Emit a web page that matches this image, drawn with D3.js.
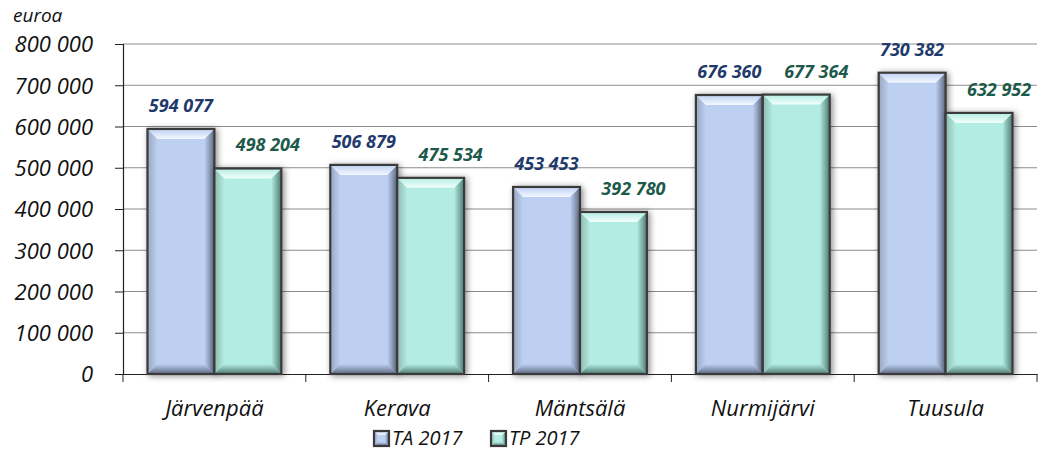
<!DOCTYPE html>
<html>
<head>
<meta charset="utf-8">
<script src="https://cdn.jsdelivr.net/npm/d3@7"></script>
<style>
  body { margin: 0; background: #fff; }
  text { font-family: "Open Sans", Lato, sans-serif; }
</style>
</head>
<body>
<div id="chart"></div>
<script>
// data
const categories = ["Järvenpää", "Kerava", "Mäntsälä", "Nurmijärvi", "Tuusula"]
const series = ["TA 2017", "TP 2017"]
const ta2017 = [594077, 506879, 453453, 676360, 730382]
const tp2017 = [498204, 475534, 392780, 677364, 632952]
const yTicks = [0, 100000, 200000, 300000, 400000, 500000, 600000, 700000, 800000]

const WIDTH = 1043, HEIGHT = 453
const PLOT = { LEFT: 123, RIGHT: 1037, TOP: 44, BOTTOM: 374 }
const FONT = "'Open Sans', Lato, sans-serif"

const colors = {
    "TA 2017": { fill: "#bdd0f1", light: "#f4f8ff", dark: "#5e6a84", side: "#9aa6bf", label: "#1f3a6b" },
    "TP 2017": { fill: "#b2ece2", light: "#f3fffc", dark: "#4f7a72", side: "#8fb8b0", label: "#1d5a4b" }
}

const locale = d3.formatLocale({ decimal: ",", thousands: " ", grouping: [3], currency: ["", " €"] })
const fmt = locale.format(",d")

const rows = categories.map((c, i) => ({ cat: c, values: [
    { s: "TA 2017", v: ta2017[i] },
    { s: "TP 2017", v: tp2017[i] }
]}))

const svg = d3.select("#chart").append("svg")
    .attr("width", WIDTH)
    .attr("height", HEIGHT)

const defs = svg.append("defs")
const shadow = defs.append("filter").attr("id", "shadow")
    .attr("x", "-20%").attr("y", "-20%").attr("width", "150%").attr("height", "150%")
shadow.append("feDropShadow")
    .attr("dx", 2).attr("dy", 1).attr("stdDeviation", 3)
    .attr("flood-color", "#000").attr("flood-opacity", 0.45)

// gradients for the bevel look
series.forEach((s, k) => {
    const c = colors[s]
    const top = defs.append("linearGradient").attr("id", "top" + k)
        .attr("x1", 0).attr("y1", 0).attr("x2", 0).attr("y2", 1)
    top.append("stop").attr("offset", "0%").attr("stop-color", c.fill)
    top.append("stop").attr("offset", "100%").attr("stop-color", c.light)
    const right = defs.append("linearGradient").attr("id", "right" + k)
        .attr("x1", 0).attr("y1", 0).attr("x2", 1).attr("y2", 0)
    right.append("stop").attr("offset", "0%").attr("stop-color", c.fill)
    right.append("stop").attr("offset", "100%").attr("stop-color", c.dark)
    const bottom = defs.append("linearGradient").attr("id", "bottom" + k)
        .attr("x1", 0).attr("y1", 0).attr("x2", 0).attr("y2", 1)
    bottom.append("stop").attr("offset", "0%").attr("stop-color", c.fill)
    bottom.append("stop").attr("offset", "100%").attr("stop-color", c.dark)
    const left = defs.append("linearGradient").attr("id", "left" + k)
        .attr("x1", 0).attr("y1", 0).attr("x2", 1).attr("y2", 0)
    left.append("stop").attr("offset", "0%").attr("stop-color", c.side)
    left.append("stop").attr("offset", "100%").attr("stop-color", c.fill)
})

// scales
const x = d3.scaleBand()
    .domain(categories)
    .range([PLOT.LEFT, PLOT.RIGHT])

const xSub = d3.scaleBand()
    .domain(series)
    .range([0, x.bandwidth()])
    .paddingOuter(0.366)

const y = d3.scaleLinear()
    .domain([0, 800000])
    .range([PLOT.BOTTOM, PLOT.TOP])

// gridlines
svg.append("g").selectAll("line")
    .data(yTicks.filter(d => d > 0))
    .enter().append("line")
        .attr("x1", PLOT.LEFT).attr("x2", PLOT.RIGHT)
        .attr("y1", d => y(d)).attr("y2", d => y(d))
        .attr("stroke", "#8c8c8c").attr("stroke-width", 1)

// y axis
const yAxis = svg.append("g")
    .attr("transform", `translate(${PLOT.LEFT},0)`)
    .call(d3.axisLeft(y).tickValues(yTicks).tickFormat(fmt).tickSize(8).tickPadding(22))
yAxis.attr("font-family", FONT)
yAxis.select(".domain").attr("stroke", "#222").attr("stroke-width", 1.2)
yAxis.selectAll(".tick line").attr("stroke", "#222")
yAxis.selectAll(".tick text")
    .style("font-size", "22px").style("font-style", "italic")
    .attr("fill", "#111").attr("dy", "0.36em")

svg.append("text")
    .attr("x", 13).attr("y", 22)
    .style("font-size", "19px").style("font-style", "italic")
    .attr("fill", "#111")
    .text("euroa")

// x axis
const xAxis = svg.append("g")
    .attr("transform", `translate(0,${PLOT.BOTTOM})`)
    .call(d3.axisBottom(x).tickSize(0).tickPadding(26))
xAxis.attr("font-family", FONT)
xAxis.select(".domain").attr("stroke", "#222").attr("stroke-width", 1.2)
xAxis.selectAll(".tick text")
    .style("font-size", "22px").style("font-style", "italic")
    .attr("fill", "#111")
// category separators
svg.append("g").selectAll("line")
    .data(categories)
    .enter().append("line")
        .attr("x1", d => x(d) + x.bandwidth()).attr("x2", d => x(d) + x.bandwidth())
        .attr("y1", PLOT.BOTTOM).attr("y2", PLOT.BOTTOM + 8)
        .attr("stroke", "#222")
svg.append("line")
    .attr("x1", PLOT.LEFT).attr("x2", PLOT.LEFT)
    .attr("y1", PLOT.BOTTOM).attr("y2", PLOT.BOTTOM + 8)
    .attr("stroke", "#222")

// beveled box drawing
function bevelBox(g, x0, y0, w, h, k, b) {
    b = Math.min(b, w / 2, h / 2)
    g.append("rect").attr("x", x0).attr("y", y0).attr("width", w).attr("height", h)
        .attr("fill", colors[series[k]].fill)
    const pts = a => a.map(p => p.join(",")).join(" ")
    g.append("polygon").attr("fill", `url(#left${k})`)
        .attr("points", pts([[x0, y0], [x0 + b, y0 + b], [x0 + b, y0 + h - b], [x0, y0 + h]]))
    g.append("polygon").attr("fill", `url(#right${k})`)
        .attr("points", pts([[x0 + w, y0], [x0 + w, y0 + h], [x0 + w - b, y0 + h - b], [x0 + w - b, y0 + b]]))
    g.append("polygon").attr("fill", `url(#bottom${k})`)
        .attr("points", pts([[x0, y0 + h], [x0 + b, y0 + h - b], [x0 + w - b, y0 + h - b], [x0 + w, y0 + h]]))
    g.append("polygon").attr("fill", `url(#top${k})`)
        .attr("points", pts([[x0, y0], [x0 + w, y0], [x0 + w - b, y0 + b], [x0 + b, y0 + b]]))
    g.append("rect").attr("x", x0).attr("y", y0).attr("width", w).attr("height", h)
        .attr("fill", "none").attr("stroke", "#3a3a3a").attr("stroke-width", 2.2)
}

// bars
const groups = svg.append("g").selectAll("g")
    .data(rows)
    .enter().append("g")
        .attr("transform", d => `translate(${x(d.cat)},0)`)

groups.each(function (d) {
    const g = d3.select(this)
    d.values.forEach((v, k) => {
        const bar = g.append("g").attr("filter", "url(#shadow)")
        bevelBox(bar, xSub(v.s), y(v.v), xSub.bandwidth(), y(0) - y(v.v), k, 10)
    })
})

// value labels
groups.each(function (d) {
    const g = d3.select(this)
    g.selectAll("text.val")
        .data(d.values)
        .enter().append("text")
            .attr("class", "val")
            .attr("x", (v, k) => xSub(v.s) + xSub.bandwidth() / 2 + (k === 1 ? 20 : 0))
            .attr("y", v => y(v.v) - 17)
            .attr("text-anchor", "middle")
            .style("font-size", "18px").style("font-weight", "bold").style("font-style", "italic")
            .attr("fill", v => colors[v.s].label)
            .text(v => fmt(v.v))
})

// legend
const legend = svg.append("g")
const legendX = [374, 491]
series.forEach((s, k) => {
    const lg = legend.append("g")
    bevelBox(lg, legendX[k], 431, 15, 15, k, 4)
    lg.append("text")
        .attr("x", legendX[k] + 18).attr("y", 445)
        .style("font-size", "20px").style("font-style", "italic")
        .attr("fill", "#111")
        .text(s)
})
</script>
</body>
</html>
